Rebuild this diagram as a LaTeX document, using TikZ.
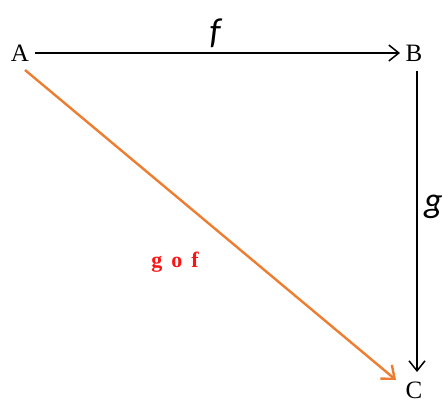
\documentclass[tikz,border=0pt]{standalone}
\usepackage{fontspec}
\setmainfont{Liberation Serif}
\newfontfamily\calib{Carlito}
\usetikzlibrary{arrows.meta}
\definecolor{offorange}{RGB}{237,125,49}
\definecolor{lblred}{RGB}{250,20,20}
\begin{document}
\begin{tikzpicture}[x=1pt,y=-1pt,
  vert/.style={font=\fontsize{25}{27}\selectfont, inner sep=0pt},
  map/.style={draw, line width=1.5pt, -{Straight Barb[length=10pt,width=16pt,line width=1.5pt]}},
  comp/.style={draw=offorange, line width=2.4pt, -{Straight Barb[length=11pt,width=18pt,line width=2.4pt]}},
  flabel/.style={font=\calib\itshape\fontsize{36}{38}\selectfont, inner sep=0pt},
  rlabel/.style={font=\bfseries\fontsize{22}{24}\selectfont, text=lblred, inner sep=0pt}]
\useasboundingbox (0,0) rectangle (443,401);
\node[vert] (A) at (20,53) {A};
\node[vert] (B) at (414,53) {B};
\node[vert] (C) at (414,390) {C};
\coordinate (A1) at (35,53);
\coordinate (B1) at (400,53);
\coordinate (B2) at (417,71);
\coordinate (C1) at (417,372);
\coordinate (A2) at (25,70);
\coordinate (C2) at (396,380);
\draw[map] (A1) -- (B1);
\draw[map] (B2) -- (C1);
\draw[comp] (A2) -- (C2);
\node[flabel] (f) at (215,33) {f};
\node[flabel, anchor=west] (g) at (424,207) {g};
\node[rlabel] (gof) at (175,262) {g\hspace{9pt}o\hspace{9pt}f};
\end{tikzpicture}
\end{document}
